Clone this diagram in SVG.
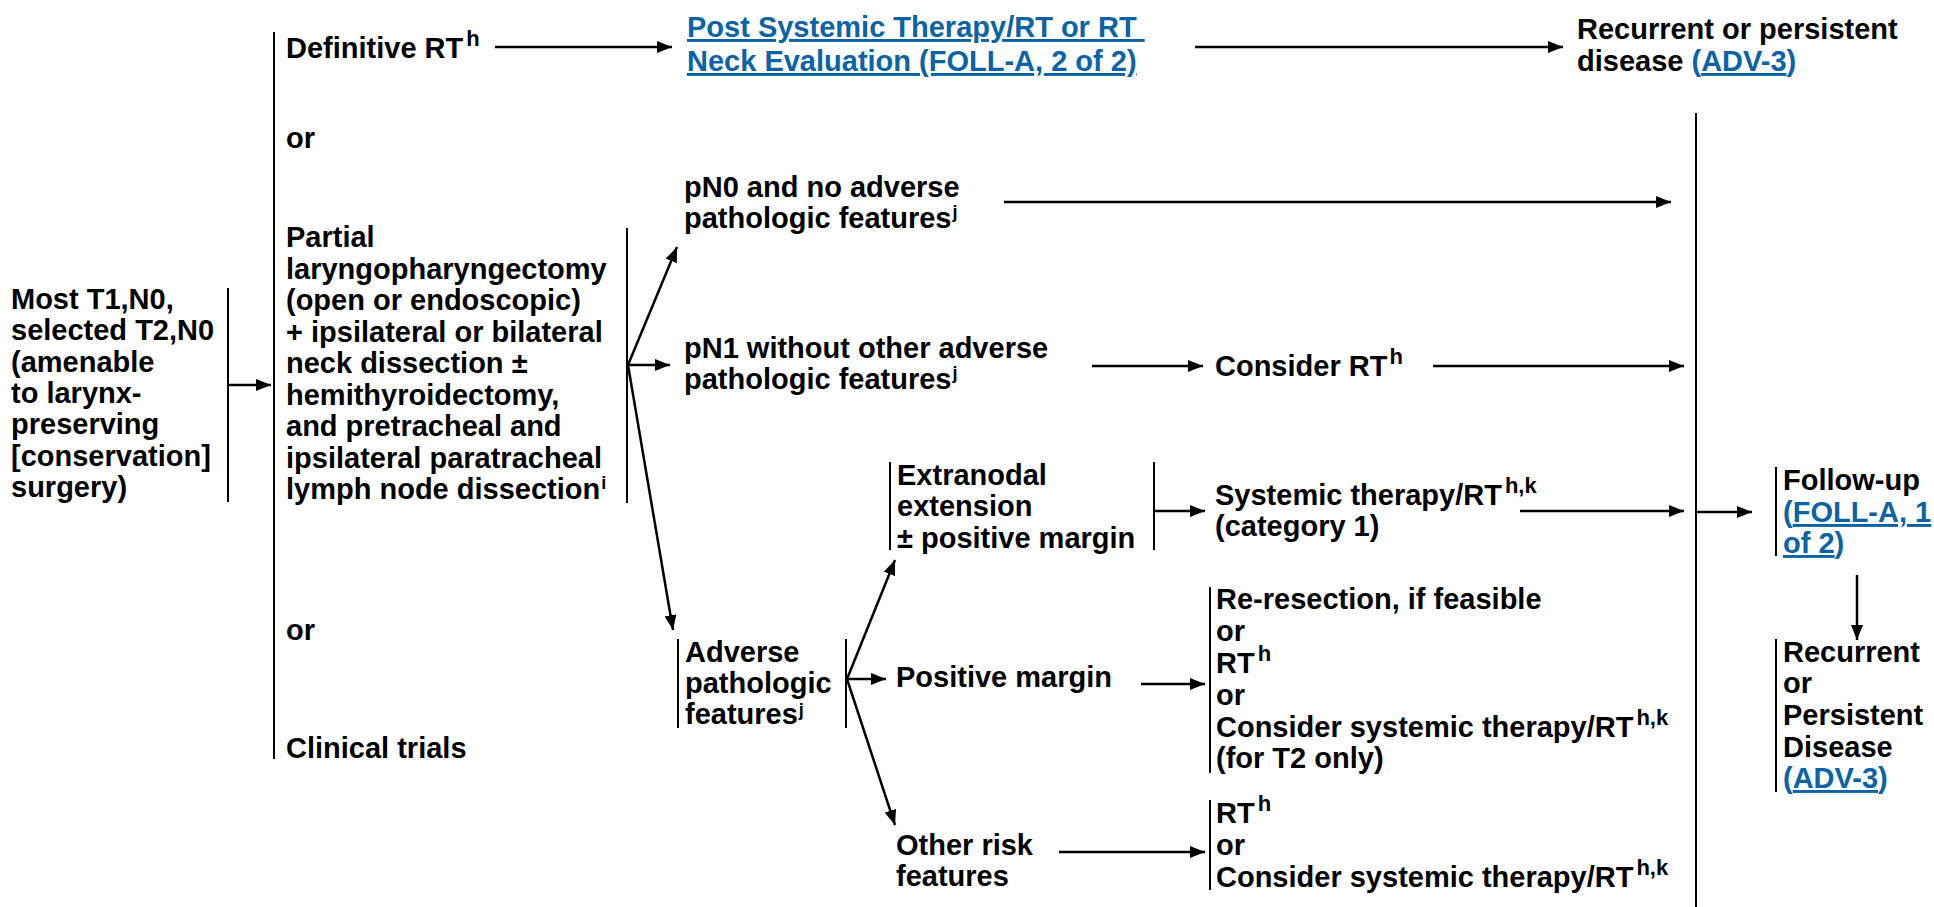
<svg xmlns="http://www.w3.org/2000/svg" width="1934" height="907" viewBox="0 0 1934 907">
<style>
.t{font-family:"Liberation Sans",Arial,Helvetica,sans-serif;font-weight:bold;font-size:29px;fill:#000}
.lk{fill:#0b63a5}
.u{text-decoration:underline}
.s{font-size:22px}
.sj{font-size:18px}
.br{stroke:#000;stroke-width:2;fill:none}
.ar{stroke:#000;stroke-width:2.5;fill:none;marker-end:url(#ah)}
</style>
<defs>
<marker id="ah" markerUnits="userSpaceOnUse" markerWidth="16" markerHeight="12" refX="15" refY="6" orient="auto">
<path d="M0,0 L15,6 L0,12 z" fill="#000"/>
</marker>
</defs>
<rect width="1934" height="907" fill="#fff"/>

<g id="n-start">
<text class="t">
<tspan x="11" y="309">Most T1,N0,</tspan>
<tspan x="11" y="340">selected T2,N0</tspan>
<tspan x="11" y="372">(amenable</tspan>
<tspan x="11" y="403">to larynx-</tspan>
<tspan x="11" y="434">preserving</tspan>
<tspan x="11" y="466">[conservation]</tspan>
<tspan x="11" y="497">surgery)</tspan>
</text>
<line class="br" x1="228" y1="288" x2="228" y2="502"/>
</g>

<g id="n-options">
<line class="br" x1="274" y1="32" x2="274" y2="759"/>
</g>

<g id="n-definitive">
<text class="t"><tspan x="286" y="58">Definitive RT</tspan><tspan class="s" dx="3" dy="-12">h</tspan></text>
</g>

<g id="n-or1"><text class="t" x="286" y="148">or</text></g>

<g id="n-partial">
<text class="t">
<tspan x="286" y="247">Partial</tspan>
<tspan x="286" y="278.5">laryngopharyngectomy</tspan>
<tspan x="286" y="310">(open or endoscopic)</tspan>
<tspan x="286" y="341.5">+ ipsilateral or bilateral</tspan>
<tspan x="286" y="373">neck dissection ±</tspan>
<tspan x="286" y="404.5">hemithyroidectomy,</tspan>
<tspan x="286" y="436">and pretracheal and</tspan>
<tspan x="286" y="467.5">ipsilateral paratracheal</tspan>
<tspan x="286" y="499">lymph node dissection</tspan><tspan class="sj" dx="1" dy="-10">i</tspan>
</text>
<line class="br" x1="627" y1="228" x2="627" y2="503"/>
</g>

<g id="n-or2"><text class="t" x="286" y="640">or</text></g>
<g id="n-trials"><text class="t" x="286" y="758">Clinical trials</text></g>

<g id="n-postrt">
<text class="t lk">
<tspan class="u" x="687" y="37">Post Systemic Therapy/RT or RT </tspan>
<tspan class="u" x="687" y="71">Neck Evaluation (FOLL-A, 2 of 2)</tspan>
</text>
</g>

<g id="n-recur-top">
<text class="t">
<tspan x="1577" y="39">Recurrent or persistent</tspan>
<tspan x="1577" y="71">disease </tspan><tspan class="lk">(</tspan><tspan class="lk u">ADV-3</tspan><tspan class="lk">)</tspan>
</text>
</g>

<g id="n-pn0">
<text class="t">
<tspan x="684" y="197">pN0 and no adverse</tspan>
<tspan x="684" y="228">pathologic features</tspan><tspan class="sj" dx="1" dy="-10">j</tspan>
</text>
</g>

<g id="n-pn1">
<text class="t">
<tspan x="684" y="358">pN1 without other adverse</tspan>
<tspan x="684" y="389">pathologic features</tspan><tspan class="sj" dx="1" dy="-10">j</tspan>
</text>
</g>

<g id="n-considerrt">
<text class="t"><tspan x="1215" y="376">Consider RT</tspan><tspan class="s" dx="2" dy="-12">h</tspan></text>
</g>

<g id="n-adverse">
<line class="br" x1="678" y1="639" x2="678" y2="728"/>
<text class="t">
<tspan x="685" y="662">Adverse</tspan>
<tspan x="685" y="693">pathologic</tspan>
<tspan x="685" y="724">features</tspan><tspan class="sj" dx="1" dy="-8">j</tspan>
</text>
<line class="br" x1="846" y1="639" x2="846" y2="728"/>
</g>

<g id="n-extranodal">
<line class="br" x1="890" y1="462" x2="890" y2="550"/>
<text class="t">
<tspan x="897" y="485">Extranodal</tspan>
<tspan x="897" y="516">extension</tspan>
<tspan x="897" y="548">± positive margin</tspan>
</text>
<line class="br" x1="1154" y1="462" x2="1154" y2="550"/>
</g>

<g id="n-systemic">
<text class="t">
<tspan x="1215" y="505">Systemic therapy/RT</tspan><tspan class="s" dx="3" dy="-12">h,k</tspan>
<tspan x="1215" y="536">(category 1)</tspan>
</text>
</g>

<g id="n-posmargin">
<text class="t" x="896" y="687">Positive margin</text>
</g>

<g id="n-reresection">
<line class="br" x1="1210" y1="587" x2="1210" y2="773"/>
<text class="t">
<tspan x="1216" y="609">Re-resection, if feasible</tspan>
<tspan x="1216" y="641">or</tspan>
<tspan x="1216" y="673">RT</tspan><tspan class="s" dx="3" dy="-12">h</tspan>
<tspan x="1216" y="705">or</tspan>
<tspan x="1216" y="737">Consider systemic therapy/RT</tspan><tspan class="s" dx="3" dy="-12">h,k</tspan>
<tspan x="1216" y="768">(for T2 only)</tspan>
</text>
</g>

<g id="n-otherrisk">
<text class="t">
<tspan x="896" y="855">Other risk</tspan>
<tspan x="896" y="886">features</tspan>
</text>
</g>

<g id="n-otherrx">
<line class="br" x1="1210" y1="800" x2="1210" y2="890"/>
<text class="t">
<tspan x="1216" y="823">RT</tspan><tspan class="s" dx="3" dy="-12">h</tspan>
<tspan x="1216" y="855">or</tspan>
<tspan x="1216" y="887">Consider systemic therapy/RT</tspan><tspan class="s" dx="3" dy="-12">h,k</tspan>
</text>
</g>

<g id="n-followup">
<line class="br" x1="1776" y1="467" x2="1776" y2="556"/>
<text class="t">
<tspan x="1783" y="490">Follow-up</tspan>
<tspan x="1783" y="522" class="lk">(</tspan><tspan class="lk u">FOLL-A, 1</tspan>
<tspan x="1783" y="553" class="lk u">of 2</tspan><tspan class="lk">)</tspan>
</text>
</g>

<g id="n-recur-bottom">
<line class="br" x1="1776" y1="639" x2="1776" y2="792"/>
<text class="t">
<tspan x="1783" y="662">Recurrent</tspan>
<tspan x="1783" y="693">or</tspan>
<tspan x="1783" y="725">Persistent</tspan>
<tspan x="1783" y="757">Disease</tspan>
<tspan x="1783" y="788" class="lk">(</tspan><tspan class="lk u">ADV-3</tspan><tspan class="lk">)</tspan>
</text>
</g>

<g id="connectors">
<line class="ar" x1="229" y1="385" x2="271" y2="385"/>
<line class="ar" x1="495" y1="47" x2="672" y2="47"/>
<line class="ar" x1="1195" y1="47" x2="1563" y2="47"/>
<line class="ar" x1="628" y1="365" x2="677" y2="247"/>
<line class="ar" x1="628" y1="365" x2="670" y2="365"/>
<line class="ar" x1="628" y1="365" x2="673" y2="630"/>
<line class="ar" x1="1004" y1="202" x2="1671" y2="202"/>
<line class="ar" x1="1092" y1="366" x2="1203" y2="366"/>
<line class="ar" x1="1433" y1="366" x2="1684" y2="366"/>
<line class="br" x1="1696" y1="113" x2="1696" y2="907"/>
<line class="ar" x1="847" y1="679" x2="895" y2="560"/>
<line class="ar" x1="847" y1="679" x2="886" y2="679"/>
<line class="ar" x1="847" y1="679" x2="895" y2="825"/>
<line class="ar" x1="1154" y1="511" x2="1205" y2="511"/>
<line class="ar" x1="1520" y1="511" x2="1684" y2="511"/>
<line class="ar" x1="1696" y1="512" x2="1752" y2="512"/>
<line class="ar" x1="1857" y1="575" x2="1857" y2="640"/>
<line class="ar" x1="1141" y1="684" x2="1205" y2="684"/>
<line class="ar" x1="1059" y1="852" x2="1205" y2="852"/>
</g>
</svg>
